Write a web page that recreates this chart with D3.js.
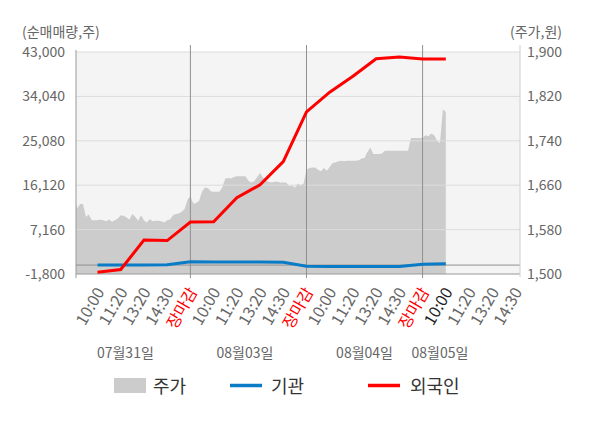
<!DOCTYPE html>
<html>
<head>
<meta charset="utf-8">
<script src="https://cdn.jsdelivr.net/npm/d3@7"></script>
<style>
body { margin: 0; background: #fff; }
text { font-family: "Noto Sans CJK KR", "Noto Sans", sans-serif; }
</style>
</head>
<body>
<svg id="chart" width="600" height="428"></svg>
<script>
// tick labels
const times = ["10:00", "11:20", "13:20", "14:30", "장마감"];
const days = ["07월31일", "08월03일", "08월04일", "08월05일"];
const leftTicks = [-1800, 7160, 16120, 25080, 34040, 43000];
const rightTicks = [1500, 1580, 1660, 1740, 1820, 1900];

// net buying (shares), one value per time tick starting at 07/31 10:00
const foreign = [-1450, -900, 5060, 4950, 8700, 8750, 13600, 16200, 20900, 30900,
  34900, 38100, 41650, 41990, 41590, 41590];
const institution = [0, 0, 0, 80, 680, 600, 600, 600, 560, -250,
  -280, -300, -300, -280, 160, 280];

// intraday price (won), 8 samples per time tick
const price = [
  1644, 1618, 1626, 1626, 1603, 1607, 1597, 1597, 1597, 1598, 1597, 1595, 1598, 1594, 1597, 1600,
  1606, 1605, 1602, 1598, 1608, 1603, 1596, 1606, 1597, 1593, 1599, 1595, 1596, 1596, 1595, 1593,
  1597, 1598, 1606, 1608, 1609, 1612, 1617, 1634, 1640, 1627, 1628, 1632, 1648, 1656, 1655, 1649,
  1648, 1648, 1648, 1656, 1672, 1673, 1672, 1675, 1676, 1676, 1676, 1676, 1668, 1665, 1667, 1675,
  1682, 1674, 1668, 1666, 1665, 1666, 1666, 1665, 1665, 1665, 1658, 1659, 1656, 1663, 1660, 1663,
  1688, 1691, 1692, 1692, 1688, 1685, 1691, 1686, 1693, 1700, 1701, 1703, 1704, 1703, 1704, 1704,
  1704, 1704, 1705, 1708, 1709, 1720, 1728, 1716, 1716, 1716, 1717, 1722, 1722, 1722, 1722, 1722,
  1722, 1722, 1722, 1722, 1745, 1745, 1745, 1745, 1745, 1750, 1748, 1753, 1750, 1740, 1736, 1797,
  1792
];
const priceStep = 1 / 8;
const tickCount = 19;
const currentTick = 16;

const svg = d3.select("#chart");
const plotL = 76, plotR = 520, plotT = 52, plotB = 274;

const x = d3.scaleLinear().domain([0, 19.2]).range([74.3, 520.1]);
const yL = d3.scaleLinear().domain([-1800, 43000]).range([plotB, plotT]);
const yR = d3.scaleLinear().domain([1500, 1900]).range([plotB, plotT]);

svg.append("defs").append("clipPath").attr("id", "plot")
  .append("rect").attr("x", plotL).attr("y", plotT).attr("width", plotR - plotL).attr("height", plotB - plotT);

svg.append("rect")
  .attr("x", plotL).attr("y", plotT)
  .attr("width", plotR - plotL).attr("height", plotB - plotT)
  .attr("fill", "#f4f4f4");

// price area
svg.append("path")
  .datum(price)
  .attr("clip-path", "url(#plot)")
  .attr("fill", "#cccccc")
  .attr("d", d3.area()
    .x((d, i) => x(i * priceStep))
    .y0(plotB)
    .y1(d => yR(d)));

// grid
svg.append("g")
  .selectAll("line")
  .data(leftTicks.slice(1))
  .join("line")
  .attr("x1", plotL).attr("x2", plotR)
  .attr("y1", d => yL(d)).attr("y2", d => yL(d))
  .attr("stroke", "#dcdcdc").attr("stroke-width", 1);

svg.append("line")
  .attr("x1", plotL).attr("x2", plotR)
  .attr("y1", yL(0)).attr("y2", yL(0))
  .attr("stroke", "#909090");

svg.append("line")
  .attr("x1", plotL).attr("x2", plotR)
  .attr("y1", plotB).attr("y2", plotB)
  .attr("stroke", "#999");

svg.append("line")
  .attr("x1", plotL).attr("x2", plotL)
  .attr("y1", 50).attr("y2", 278)
  .attr("stroke", "#999");

svg.append("line")
  .attr("x1", plotR).attr("x2", plotR)
  .attr("y1", 45).attr("y2", 277)
  .attr("stroke", "#d0d0d0");

// day separators
svg.append("g")
  .selectAll("line")
  .data(d3.range(1, days.length).map(d => d * times.length))
  .join("line")
  .attr("x1", d => x(d)).attr("x2", d => x(d))
  .attr("y1", 45).attr("y2", 278)
  .attr("stroke", "#909090");

// net buying lines
const line = d3.line()
  .x((d, i) => x(i + 1))
  .y(d => yL(d));

svg.append("path")
  .datum(institution)
  .attr("fill", "none")
  .attr("stroke", "#0a7bc6")
  .attr("stroke-width", 3)
  .attr("d", line);

svg.append("path")
  .datum(foreign)
  .attr("fill", "none")
  .attr("stroke", "#ff0000")
  .attr("stroke-width", 3)
  .attr("d", line);

// y axes labels
svg.append("g")
  .selectAll("text")
  .data(leftTicks)
  .join("text")
  .attr("x", 65).attr("y", d => yL(d))
  .attr("dy", "0.35em")
  .attr("text-anchor", "end")
  .attr("font-size", 14)
  .attr("fill", "#666")
  .text(d => d3.format(",")(d).replace("−", "-"));

svg.append("g")
  .selectAll("text")
  .data(rightTicks)
  .join("text")
  .attr("x", 527).attr("y", d => yR(d))
  .attr("dy", "0.35em")
  .attr("font-size", 14)
  .attr("fill", "#666")
  .text(d => d3.format(",")(d));

svg.append("text")
  .attr("x", 22).attr("y", 37)
  .attr("font-size", 14).attr("fill", "#666")
  .text("(순매매량,주)");

svg.append("text")
  .attr("x", 562).attr("y", 37)
  .attr("text-anchor", "end")
  .attr("font-size", 14).attr("fill", "#666")
  .text("(주가,원)");

// x tick labels
svg.append("g")
  .selectAll("text")
  .data(d3.range(1, tickCount + 1))
  .join("text")
  .attr("transform", d => `translate(${x(d) + 2.5},289) rotate(-60)`)
  .attr("text-anchor", "end")
  .attr("dy", "0.35em")
  .attr("font-size", 16)
  .attr("fill", d => {
    const t = times[(d - 1) % times.length];
    if (t === "장마감") return "#ff0000";
    return d === currentTick ? "#222" : "#666";
  })
  .text(d => times[(d - 1) % times.length]);

// date labels
const dateLabelAt = [2.2, 7.35, 12.5, 15.75];
svg.append("g")
  .selectAll("text")
  .data(days)
  .join("text")
  .attr("x", (d, i) => x(dateLabelAt[i]))
  .attr("y", 358)
  .attr("text-anchor", "middle")
  .attr("font-size", 14)
  .attr("fill", "#666")
  .text(d => d);

// legend
const legend = svg.append("g");
legend.append("rect")
  .attr("x", 114).attr("y", 378).attr("width", 32).attr("height", 15)
  .attr("fill", "#cccccc");
legend.append("text").attr("x", 153).attr("y", 393)
  .attr("font-size", 18).attr("fill", "#333").text("주가");
legend.append("line")
  .attr("x1", 230).attr("x2", 262).attr("y1", 385.5).attr("y2", 385.5)
  .attr("stroke", "#0a7bc6").attr("stroke-width", 3.5);
legend.append("text").attr("x", 271).attr("y", 393)
  .attr("font-size", 18).attr("fill", "#333").text("기관");
legend.append("line")
  .attr("x1", 368).attr("x2", 400).attr("y1", 385.5).attr("y2", 385.5)
  .attr("stroke", "#ff0000").attr("stroke-width", 3.5);
legend.append("text").attr("x", 410).attr("y", 393)
  .attr("font-size", 18).attr("fill", "#333").text("외국인");
</script>
</body>
</html>
